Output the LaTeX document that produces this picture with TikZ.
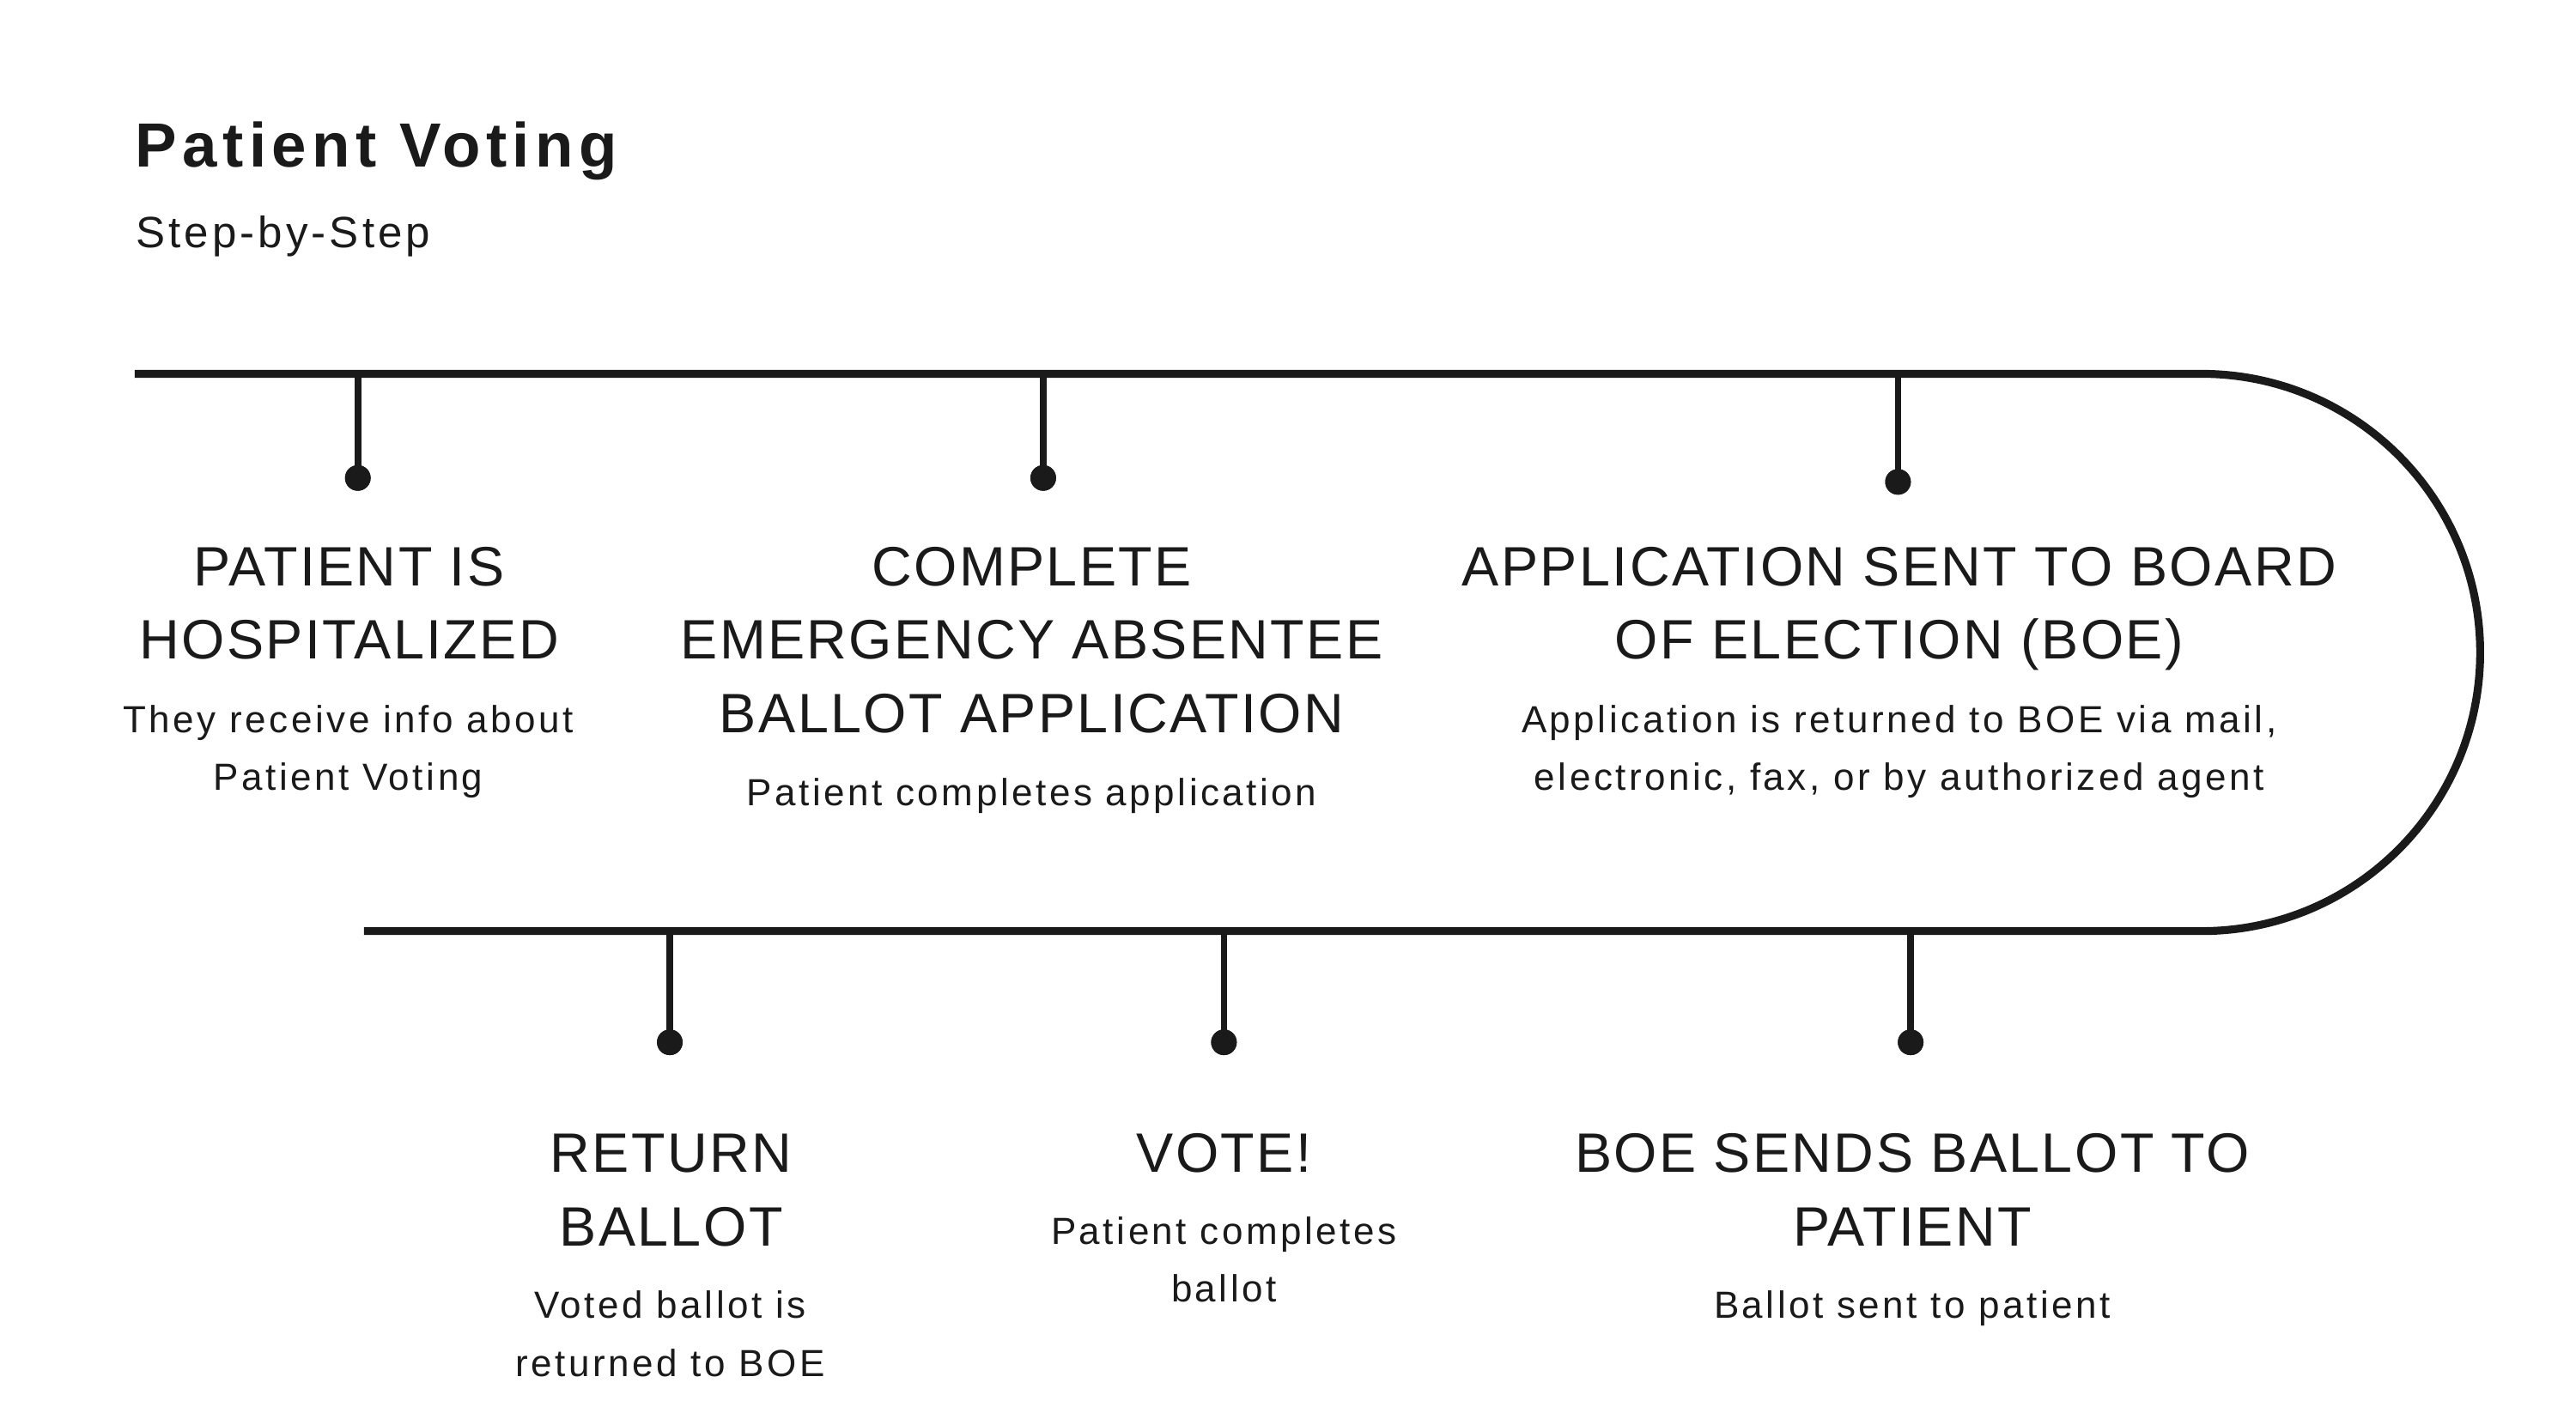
\documentclass[tikz,border=0pt]{standalone}
\usepackage{fontspec}
\setmainfont{Liberation Sans}
\newfontfamily\titlefont[LetterSpace=9]{Liberation Sans}
\newfontfamily\subfont[LetterSpace=8]{Liberation Sans}
\newfontfamily\headfont[LetterSpace=3.7]{Liberation Sans}
\newfontfamily\bodyfont[LetterSpace=8]{Liberation Sans}
\definecolor{ink}{HTML}{1A1A1A}
\tikzset{
  track/.style={draw=ink, line width=4.8pt},
  stem/.style={draw=ink, line width=4pt},
  dotnode/.style={circle, fill=ink, inner sep=0pt, minimum size=15.6pt},
  headtxt/.style={inner sep=0pt, anchor=base, text=ink, font={\headfont\fontsize{33.8}{40}\selectfont}},
  bodytxt/.style={inner sep=0pt, anchor=base, text=ink, font={\bodyfont\fontsize{23}{28}\selectfont}},
}
\begin{document}
\begin{tikzpicture}[x=1pt,y=-1pt]
\useasboundingbox[fill=white] (0,0) rectangle (1568,856.2);

% title
\node[inner sep=0pt, anchor=base west, text=ink, font={\titlefont\bfseries\fontsize{38}{44}\selectfont}] (title) at (82,101.4) {Patient Voting};
\node[inner sep=0pt, anchor=base west, text=ink, font={\subfont\fontsize{26.7}{32}\selectfont}] (subtitle) at (82.5,150.7) {Step-by-Step};

% track
\coordinate (tl) at (82,227.6);
\coordinate (tr) at (1340,227.6);
\coordinate (bl) at (221.6,566.9);
\draw[track] (tl) -- (tr) arc[start angle=-90, end angle=90, radius=169.65] -- (bl);

% top dots and stems
\node[dotnode] (d1) at (217.8,291) {};
\node[dotnode] (d2) at (635,291) {};
\node[dotnode] (d3) at (1155.3,293.4) {};
\draw[stem] (d1.center) -- (d1.center |- tl);
\draw[stem] (d2.center) -- (d2.center |- tl);
\draw[stem] (d3.center) -- (d3.center |- tl);
\node[dotnode] at (d1) {};
\node[dotnode] at (d2) {};
\node[dotnode] at (d3) {};

% bottom dots and stems
\node[dotnode] (d4) at (407.7,634.6) {};
\node[dotnode] (d5) at (745,634.6) {};
\node[dotnode] (d6) at (1163,634.6) {};
\draw[stem] (d4.center) -- (d4.center |- bl);
\draw[stem] (d5.center) -- (d5.center |- bl);
\draw[stem] (d6.center) -- (d6.center |- bl);
\node[dotnode] at (d4) {};
\node[dotnode] at (d5) {};
\node[dotnode] at (d6) {};

% step 1
\node[headtxt] (h1a) at (212.5,356.7) {PATIENT IS};
\node[headtxt] (h1b) at (212.5,401.3) {HOSPITALIZED};
\node[bodytxt] (b1a) at (212,446.1) {They receive info about};
\node[bodytxt] (b1b) at (212,480.9) {Patient Voting};

% step 2
\node[headtxt] (h2a) at (628,356.7) {COMPLETE};
\node[headtxt] (h2b) at (628,401.3) {EMERGENCY ABSENTEE};
\node[headtxt] (h2c) at (628,445.9) {BALLOT APPLICATION};
\node[bodytxt] (b2a) at (628,490.7) {Patient completes application};

% step 3
\node[headtxt] (h3a) at (1156,356.7) {APPLICATION SENT TO BOARD};
\node[headtxt] (h3b) at (1156,401.3) {OF ELECTION (BOE)};
\node[bodytxt] (b3a) at (1156,446.1) {Application is returned to BOE via mail,};
\node[bodytxt] (b3b) at (1156,480.9) {electronic, fax, or by authorized agent};

% step 4
\node[headtxt] (h4a) at (408.5,713.5) {RETURN};
\node[headtxt] (h4b) at (408.5,758.9) {BALLOT};
\node[bodytxt] (b4a) at (408,802.4) {Voted ballot is};
\node[bodytxt] (b4b) at (408,838) {returned to BOE};

% step 5
\node[headtxt] (h5a) at (745,713.5) {VOTE!};
\node[bodytxt] (b5a) at (745,757.6) {Patient completes};
\node[bodytxt] (b5b) at (745,792.8) {ballot};

% step 6
\node[headtxt] (h6a) at (1164,713.5) {BOE SENDS BALLOT TO};
\node[headtxt] (h6b) at (1164,758.9) {PATIENT};
\node[bodytxt] (b6a) at (1164,802.4) {Ballot sent to patient};
\end{tikzpicture}
\end{document}
